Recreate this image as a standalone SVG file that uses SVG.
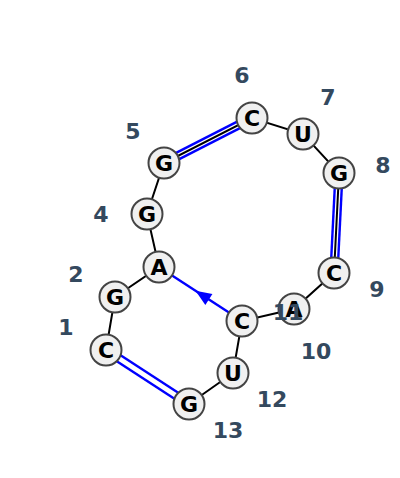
<svg xmlns="http://www.w3.org/2000/svg" width="400" height="478" viewBox="0 0 400 478">
<style>
.bb{stroke:#000;stroke-width:2;fill:none}
.bp{stroke:#0000ff;stroke-width:2.4;fill:none}
.nd circle{fill:#f0f0f0;stroke:#444;stroke-width:2}
.nd text{font-family:"DejaVu Sans",sans-serif;font-weight:bold;font-size:22px;fill:#000;text-anchor:middle;dominant-baseline:central}
.lb{font-family:"DejaVu Sans",sans-serif;font-weight:bold;font-size:22px;fill:#34495e;text-anchor:middle;dominant-baseline:central}
</style>
<defs>
<marker id="ah" markerUnits="userSpaceOnUse" markerWidth="16" markerHeight="14" refX="10" refY="7" orient="auto" overflow="visible">
<path d="M0,0.5 L16,7 L0,13.5 Z" fill="#0000ff"/>
</marker>
</defs>
<rect width="400" height="478" fill="#fff"/>
<g id="connectors">
<line class="bp" x1="165.6" y1="166.1" x2="253.6" y2="121.1"/>
<line class="bp" x1="162.4" y1="159.9" x2="250.4" y2="114.9"/>
<line class="bp" x1="342.5" y1="173.2" x2="337.5" y2="273.2"/>
<line class="bp" x1="335.5" y1="172.8" x2="330.5" y2="272.8"/>
<line class="bp" x1="104.1" y1="352.9" x2="187.1" y2="406.9"/>
<line class="bp" x1="107.9" y1="347.1" x2="190.9" y2="401.1"/>
<path class="bp" d="M242,321 L200.5,294 L159,267" marker-mid="url(#ah)"/>
<polyline class="bb" points="106,350 115,297 159,267 147,214 164,163 252,118 303,134 339,173 334,273 294,309 242,321 233,373 189,404"/>
</g>
<g id="nodes">
<g id="n1" class="nd"><circle cx="106" cy="350" r="15.5"/><text x="106" y="350">C</text></g>
<g id="n2" class="nd"><circle cx="115" cy="297" r="15.5"/><text x="115" y="297">G</text></g>
<g id="n3" class="nd"><circle cx="159" cy="267" r="15.5"/><text x="159" y="267">A</text></g>
<g id="n4" class="nd"><circle cx="147" cy="214" r="15.5"/><text x="147" y="214">G</text></g>
<g id="n5" class="nd"><circle cx="164" cy="163" r="15.5"/><text x="164" y="163">G</text></g>
<g id="n6" class="nd"><circle cx="252" cy="118" r="15.5"/><text x="252" y="118">C</text></g>
<g id="n7" class="nd"><circle cx="303" cy="134" r="15.5"/><text x="303" y="134">U</text></g>
<g id="n8" class="nd"><circle cx="339" cy="173" r="15.5"/><text x="339" y="173">G</text></g>
<g id="n9" class="nd"><circle cx="334" cy="273" r="15.5"/><text x="334" y="273">C</text></g>
<g id="n10" class="nd"><circle cx="294" cy="309" r="15.5"/><text x="294" y="309">A</text></g>
<g id="n11" class="nd"><circle cx="242" cy="321" r="15.5"/><text x="242" y="321">C</text></g>
<g id="n12" class="nd"><circle cx="233" cy="373" r="15.5"/><text x="233" y="373">U</text></g>
<g id="n13" class="nd"><circle cx="189" cy="404" r="15.5"/><text x="189" y="404">G</text></g>
</g>
<g id="labels">
<text class="lb" x="66" y="327">1</text>
<text class="lb" x="76" y="274">2</text>
<text class="lb" x="101" y="214">4</text>
<text class="lb" x="133" y="131">5</text>
<text class="lb" x="242" y="75">6</text>
<text class="lb" x="328" y="97">7</text>
<text class="lb" x="383" y="165">8</text>
<text class="lb" x="377" y="289">9</text>
<text class="lb" x="316" y="351">10</text>
<text class="lb" x="288" y="312">11</text>
<text class="lb" x="272" y="399">12</text>
<text class="lb" x="228" y="430">13</text>
</g>
</svg>
